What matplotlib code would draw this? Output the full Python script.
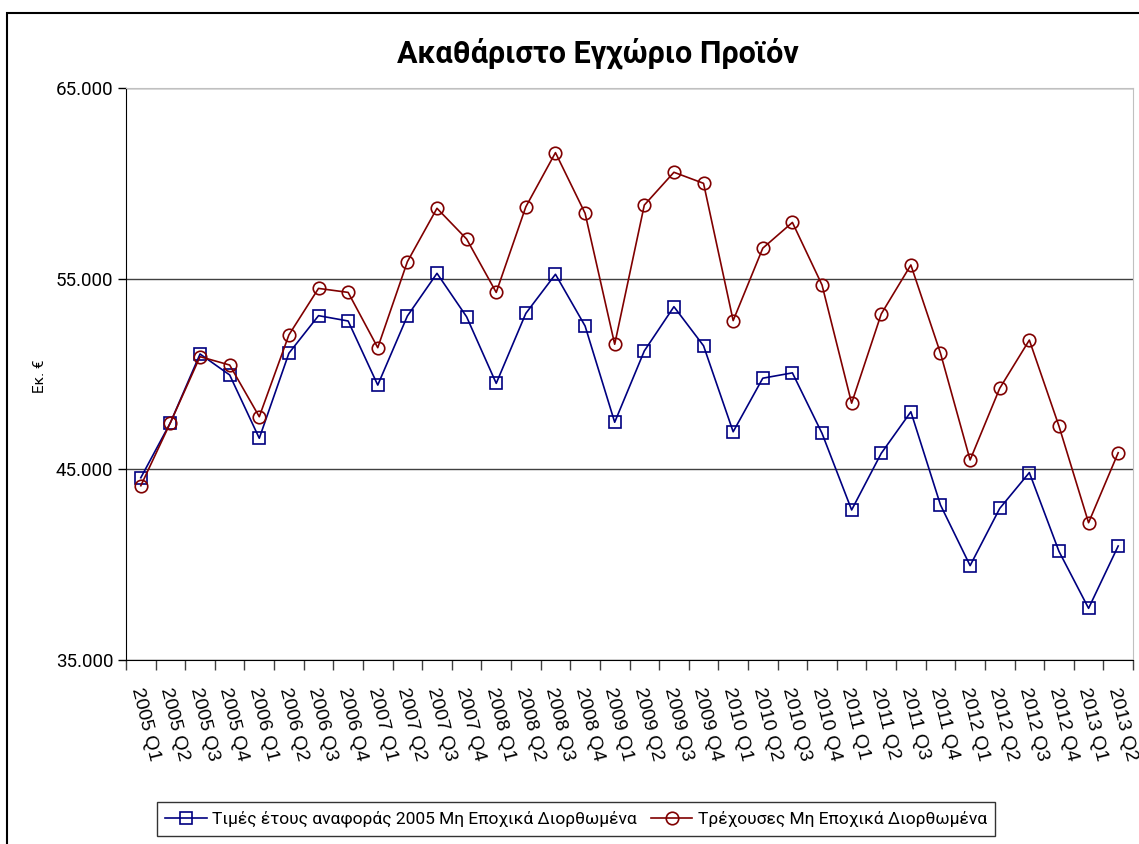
import numpy as np
import matplotlib
matplotlib.use("Agg")
import matplotlib.pyplot as plt
import matplotlib.transforms as mtransforms
from matplotlib.patches import Rectangle
from matplotlib.ticker import FuncFormatter, FixedLocator

plt.rcParams['font.family'] = ['Roboto', 'DejaVu Sans']

# δεδομένα
quarters = ['2005 Q1', '2005 Q2', '2005 Q3', '2005 Q4',
            '2006 Q1', '2006 Q2', '2006 Q3', '2006 Q4',
            '2007 Q1', '2007 Q2', '2007 Q3', '2007 Q4',
            '2008 Q1', '2008 Q2', '2008 Q3', '2008 Q4',
            '2009 Q1', '2009 Q2', '2009 Q3', '2009 Q4',
            '2010 Q1', '2010 Q2', '2010 Q3', '2010 Q4',
            '2011 Q1', '2011 Q2', '2011 Q3', '2011 Q4',
            '2012 Q1', '2012 Q2', '2012 Q3', '2012 Q4',
            '2013 Q1', '2013 Q2']

constant_2005 = [44560, 47450, 51050, 49950,
                 46630, 51090, 53060, 52780,
                 49420, 53040, 55280, 53000,
                 49510, 53180, 55230, 52520,
                 47470, 51210, 53530, 51480,
                 46970, 49780, 50060, 46890,
                 42870, 45840, 48020, 43130,
                 39950, 42950, 44830, 40700,
                 37710, 40980]

current_prices = [44140, 47450, 50910, 50470,
                  47760, 52050, 54490, 54280,
                  51380, 55890, 58690, 57080,
                  54280, 58770, 61610, 58430,
                  51560, 58860, 60580, 60000,
                  52800, 56600, 57950, 54670,
                  48470, 53150, 55720, 51090,
                  45490, 49250, 51780, 47270,
                  42200, 45870]

label_constant = 'Τιμές έτους αναφοράς 2005 Μη Εποχικά Διορθωμένα'
label_current = 'Τρέχουσες Μη Εποχικά Διορθωμένα'

W, H = 1139, 844
fig = plt.figure(figsize=(W / 100, H / 100), dpi=100)
ax = fig.add_axes([126 / W, 1 - 660 / H, (1133 - 126) / W, (660 - 88) / H])

x = np.arange(len(quarters))
ax.plot(x, constant_2005, color='#000080', lw=1.2, marker='s', ms=9,
        mfc='none', mec='#000080', mew=1.2, label=label_constant)
ax.plot(x, current_prices, color='#800000', lw=1.2, marker='o', ms=9,
        mfc='none', mec='#800000', mew=1.2, label=label_current)

ax.set_xlim(-0.5, len(quarters) - 0.5)
ax.set_ylim(35000, 65000)
ax.set_yticks([35000, 45000, 55000, 65000])
ax.yaxis.set_major_formatter(FuncFormatter(lambda v, p: '{:,.0f}'.format(v).replace(',', '.')))
ax.grid(axis='y', color='#404040', lw=1)
ax.set_axisbelow(True)

# ετικέτες x με το χέρι, λίγο πιο αριστερά από το κέντρο
ax.set_xticks(x)
ax.set_xticklabels([])
shift = mtransforms.ScaledTranslation(-5 / 100, -28 / 100, fig.dpi_scale_trans)
for i, q in zip(x, quarters):
    ax.text(i, 0, q, transform=ax.get_xaxis_transform() + shift,
            rotation=-76, rotation_mode='anchor', ha='left', va='center',
            fontsize=14, family='Liberation Sans')
ax.xaxis.set_minor_locator(FixedLocator(np.arange(-0.5, len(quarters), 1)))
ax.tick_params(axis='x', which='major', length=0)
ax.tick_params(axis='x', which='minor', length=7, width=1, color='#404040')
ax.tick_params(axis='y', length=6, width=1, labelsize=13.5, pad=3)

ax.spines['left'].set_color('black')
ax.spines['bottom'].set_color('black')
ax.spines['top'].set_color('#c0c0c0')
ax.spines['right'].set_color('#c0c0c0')

fig.text(40 / W, 1 - 376 / H, 'Εκ. €', rotation=90, ha='center', va='center', fontsize=11)
fig.text(598 / W, 1 - 53 / H, 'Ακαθάριστο Εγχώριο Προϊόν', ha='center', va='center',
         fontsize=22, fontweight='bold')

leg = fig.legend(loc='center', bbox_to_anchor=(576 / W, 1 - 819 / H), ncol=2,
                 frameon=True, fancybox=False, edgecolor='black', fontsize=12.5,
                 handlelength=2.4, columnspacing=0.8, handletextpad=0.3, borderpad=0.5)
leg.get_frame().set_linewidth(1)

fig.patches.append(Rectangle((7 / W, -0.1), 2, 1 - 13 / H + 0.1, transform=fig.transFigure,
                             fill=False, edgecolor='black', lw=1.5))

fig.savefig('out.png', dpi=100)
